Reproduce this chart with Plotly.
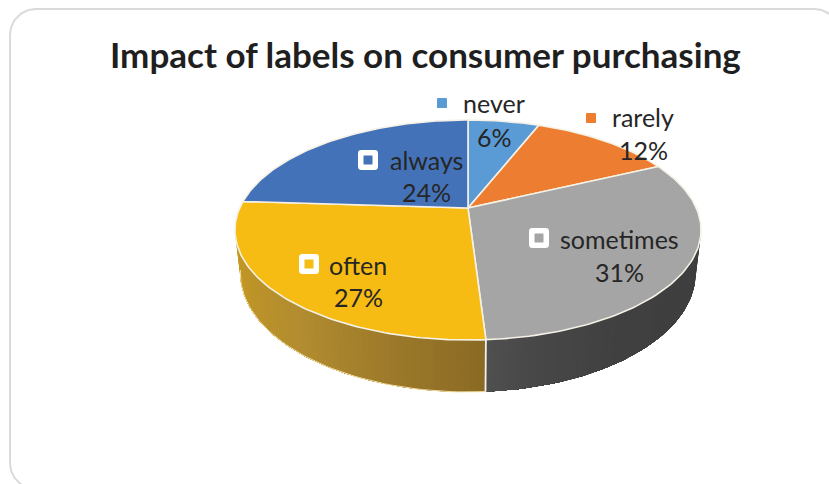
import numpy as np
import plotly.graph_objects as go

# Survey shares, clockwise from twelve o'clock
categories = ["never", "rarely", "sometimes", "often", "always"]
values = [6, 12, 31, 27, 24]
top_colors = ["#5B9BD5", "#ED7D31", "#A5A5A5", "#F6BC14", "#4472B8"]
chart_title = "Impact of labels on consumer purchasing"

# Perspective model of the tilted disc, in page pixels
CX, CY = 468.0, 208.0
RX, RY = 228.3, 105.6
TILT = 0.2
DEPTH = 41.6
BASE_SCALE = 0.977


def rim(theta_deg, lower=False):
    t = np.radians(np.asarray(theta_deg, dtype=float))
    px, py = np.sin(t), -np.cos(t)
    w = 1 - TILT * py
    x = RX * px / w
    y = RY * py / w
    if lower:
        return CX + BASE_SCALE * x, CY + y + DEPTH / w
    return CX + x, CY + y


def lerp_stops(stops, f):
    xs = [s[0] for s in stops]
    rgb = [np.interp(f, xs, [s[1][i] for s in stops]) for i in range(3)]
    return "rgb(%d,%d,%d)" % tuple(int(round(c)) for c in rgb)


def rounded_square(cx, cy, half, r):
    pts = []
    for sx, sy, a0 in [(1, -1, -90), (1, 1, 0), (-1, 1, 90), (-1, -1, 180)]:
        ox = cx + sx * (half - r)
        oy = cy + sy * (half - r)
        for a in np.linspace(a0, a0 + 90, 6):
            pts.append((ox + r * np.cos(np.radians(a)), oy + r * np.sin(np.radians(a))))
    pts.append(pts[0])
    return [p[0] for p in pts], [p[1] for p in pts]


fig = go.Figure()


def poly(xs, ys, fill, line=None, width=0):
    fig.add_trace(go.Scatter(
        x=list(xs), y=list(ys), mode="lines", fill="toself", fillcolor=fill,
        line=dict(color=line or fill, width=width), hoverinfo="skip", showlegend=False,
    ))


# Chart frame with rounded corners
frame_r = 26
fx0, fy0, fx1, fy1 = 10, 9, 840, 489
arc_bl = np.radians(np.linspace(90, 180, 20))
arc_tl = np.radians(np.linspace(180, 270, 20))
arc_tr = np.radians(np.linspace(270, 360, 20))
frame_x = (list(fx0 + frame_r + frame_r * np.cos(arc_bl))
           + list(fx0 + frame_r + frame_r * np.cos(arc_tl))
           + list(fx1 - frame_r + frame_r * np.cos(arc_tr)))
frame_y = (list(fy1 - frame_r + frame_r * np.sin(arc_bl))
           + list(fy0 + frame_r + frame_r * np.sin(arc_tl))
           + list(fy0 + frame_r + frame_r * np.sin(arc_tr)))
fig.add_trace(go.Scatter(x=frame_x, y=frame_y, mode="lines",
                         line=dict(color="#DADADA", width=2),
                         hoverinfo="skip", showlegend=False))

edges = np.concatenate([[0], np.cumsum(values)]) * 3.6

# Shaded side wall, built from overlapping strips so the tone drifts along the rim
wall_stops = {
    "sometimes": [(0, (62, 62, 62)), (0.6, (64, 64, 64)), (0.88, (72, 72, 72)), (1, (80, 80, 80))],
    "often": [(0, (138, 106, 36)), (0.15, (150, 116, 40)), (0.5, (178, 140, 48)), (1, (200, 155, 32))],
}
for name, a0, a1 in [("sometimes", 102, edges[3]), ("often", edges[3], 260)]:
    steps = int((a1 - a0) / 1.5)
    grid = np.linspace(a0, a1, steps + 1)
    for i in range(steps):
        col = lerp_stops(wall_stops[name], (i + 0.5) / steps)
        # each strip runs on to the end of the section; later strips paint over it
        ang = np.linspace(grid[i], a1, max(2, steps - i + 1))
        ux, uy = rim(ang)
        lx, ly = rim(ang, lower=True)
        poly(list(ux) + list(lx[::-1]) + [ux[0]], list(uy) + list(ly[::-1]) + [uy[0]], col)

# Pale rim along the lower edge of the wall
ang = np.linspace(edges[3], 260, 60)
lx, ly = rim(ang, lower=True)
fig.add_trace(go.Scatter(x=lx, y=ly, mode="lines", line=dict(color="#F4DFA0", width=1),
                         hoverinfo="skip", showlegend=False))

# Seam between the two front wall sections
sx0, sy0 = rim(edges[3])
sx1, sy1 = rim(edges[3], lower=True)
fig.add_trace(go.Scatter(x=[sx0, sx1], y=[sy0, sy1], mode="lines",
                         line=dict(color="#F2F0EA", width=1.8),
                         hoverinfo="skip", showlegend=False))

# Top face of each slice
for i, name in enumerate(categories):
    ang = np.linspace(edges[i], edges[i + 1], 90)
    rx_, ry_ = rim(ang)
    poly([CX] + list(rx_) + [CX], [CY] + list(ry_) + [CY], top_colors[i], line="#F5F1E6", width=1.6)

# Data labels: name with a key swatch, share beneath
label_font = dict(family="Lato", size=25, color="#262626")
label_pos = {
    "never": (494, 103, 442, 103, False),
    "rarely": (643, 117, 591, 118, False),
    "sometimes": (619, 239, 539, 238, True),
    "often": (358, 265, 309, 264, True),
    "always": (426, 160, 368, 160, True),
}
share_pos = {
    "never": (494, 137),
    "rarely": (643, 150),
    "sometimes": (619, 272),
    "often": (358, 297),
    "always": (426, 192),
}
annotations = []
for i, name in enumerate(categories):
    tx, ty, kx, ky, boxed = label_pos[name]
    if boxed:
        bx, by = rounded_square(kx, ky, 10, 3)
        poly(bx, by, "#FFFFFF")
        ix, iy = rounded_square(kx, ky, 4.5, 0.5)
        poly(ix, iy, top_colors[i])
    else:
        ix, iy = rounded_square(kx, ky, 5, 0.5)
        poly(ix, iy, top_colors[i])
    annotations.append(dict(x=tx, y=ty, text=name, showarrow=False, font=label_font,
                            xanchor="center", yanchor="middle"))
    sx, sy = share_pos[name]
    annotations.append(dict(x=sx, y=sy, text="%d%%" % values[i], showarrow=False, font=label_font,
                            xanchor="center", yanchor="middle"))

annotations.append(dict(x=425, y=54, text="<b>%s</b>" % chart_title, showarrow=False,
                        font=dict(family="Lato", size=35, color="#1F1F1F"),
                        xanchor="center", yanchor="middle"))

fig.update_layout(
    width=829, height=484, margin=dict(l=0, r=0, t=0, b=0),
    paper_bgcolor="#FFFFFF", plot_bgcolor="#FFFFFF", showlegend=False,
    xaxis=dict(range=[0, 829], visible=False, fixedrange=True),
    yaxis=dict(range=[484, 0], visible=False, fixedrange=True),
    annotations=annotations,
)
fig.write_html("out.html", config=dict(displayModeBar=False))
